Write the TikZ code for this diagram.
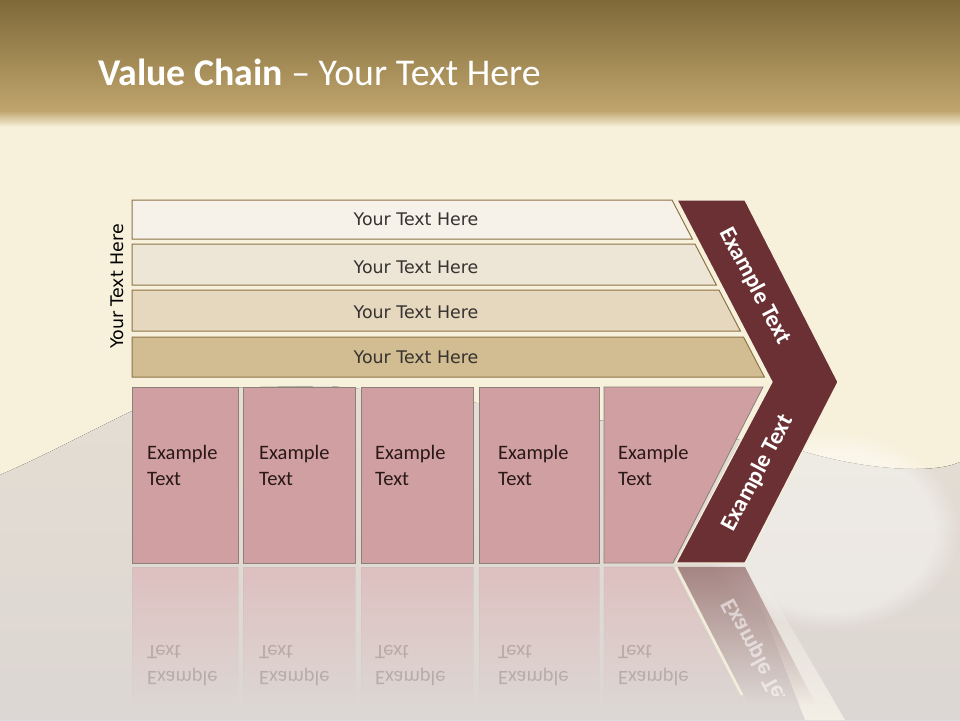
\documentclass[tikz,border=0pt]{standalone}
\usepackage{fontspec}
\setmainfont{Carlito}
\newfontfamily\versans{DejaVu Sans}
\usetikzlibrary{fadings}
\definecolor{bandtop}{HTML}{7F6939}
\definecolor{bandlow}{HTML}{BFA56D}
\definecolor{bgcream}{HTML}{F7F0DB}
\definecolor{dunegrey}{HTML}{D6CFCC}
\definecolor{barrim}{HTML}{8D7447}
\definecolor{barA}{HTML}{F6F2EA}
\definecolor{barB}{HTML}{EDE5D5}
\definecolor{barC}{HTML}{E6D8BE}
\definecolor{barD}{HTML}{D2BD92}
\definecolor{boxpink}{HTML}{D09FA1}
\definecolor{boxrim}{HTML}{8A807C}
\definecolor{chevred}{HTML}{6A3033}
\definecolor{inkdark}{HTML}{2A1818}
\definecolor{inkgrey}{HTML}{363230}
\pgfdeclareverticalshading{topband}{100bp}{color(0bp)=(bgcream); color(28bp)=(bgcream); color(34bp)=(bandlow); color(75bp)=(bandtop); color(100bp)=(bandtop)}
\begin{document}
\begin{tikzpicture}[x=1pt,y=-1pt,line join=miter,
  bartext/.style={font=\versans\fontsize{17.4}{20}\selectfont,text=inkgrey,anchor=base,inner sep=0pt},
  boxtext/.style={font=\fontsize{20.5}{24}\selectfont,text=inkdark,anchor=base west,inner sep=0pt},
  chevtext/.style={font=\bfseries\fontsize{23.5}{28}\selectfont,text=white,inner sep=0pt},
  mirrored/.style={yscale=-1,opacity=0.2}]
  \useasboundingbox (0,0) rectangle (960,720);
  \fill[bgcream] (0,0) rectangle (960,720);
  \fill[top color=dunegrey!55!bgcream,bottom color=dunegrey!85!white] (0,475) .. controls (80,440) and (140,402) .. (190,388) -- (330,386) -- (420,395) -- (790,447) .. controls (850,468) and (930,476) .. (960,462) -- (960,720) -- (0,720) -- cycle;
  \fill[white,opacity=0.4,path fading=circle with fuzzy edge 20 percent] (830,530) ellipse (130 and 100);
  \fill[white!50!bgcream,opacity=0.75,path fading=north] (746,567) -- (756,567) -- (845,720) -- (805,720) -- cycle;
  \shade[shading=topband] (0,0) rectangle (960,135);
  \node[anchor=base west,text=white,font=\fontsize{37.8}{44}\selectfont,inner sep=0pt] (title) at (98,85) {\textbf{Value Chain} – Your Text Here};
  \foreach \name/\top/\bot/\col/\base in {barone/200/239/barA/225,bartwo/244/285/barB/273,barthree/290/331/barC/318,barfour/337/377/barD/363}{
    \draw[barrim,line width=1pt,fill=\col] (132,\top) -- ({672+0.522*(\top-200)},\top) -- ({672+0.522*(\bot-200)},\bot) -- (132,\bot) -- cycle;
    \node[bartext] (\name) at (416,\base) {Your Text Here};
  }
  \node[bartext,text=black,rotate=90] (sidelabel) at (123,286.5) {Your Text Here};
  \draw[bgcream,line width=1.2pt,fill=chevred] (677,200) -- (745,200) -- (838,382) -- (745,563) -- (676,563) -- (772,382) -- cycle;
  \node[chevtext,rotate=-62.4] (chevup) at (755,286) {Example Text};
  \node[chevtext,rotate=62] (chevdown) at (758,473) {Example Text};
  \foreach \name/\xl/\xrt/\xrb/\tx in {boxone/132/238/238/147,boxtwo/243/355/355/259,boxthree/361/473/473/375,boxfour/479/599/599/498,boxfive/604/763/673/618}{
    \draw[boxrim,line width=0.8pt,fill=boxpink] (\xl,387) -- (\xrt,387) -- (\xrb,563) -- (\xl,563) -- cycle;
    \node[boxtext] (\name-one) at (\tx,459) {Example};
    \node[boxtext] (\name-two) at (\tx,485) {Text};
    \fill[boxpink!75!white,fill opacity=0.75,path fading=south] (\xl,567) -- (\xrb,567) -- ({\xrb+(\xrt-\xrb)*138/176},705) -- (\xl,705) -- cycle;
    \draw[boxrim!50!white,line width=0.8pt,opacity=0.5,path fading=south] (\xl,705) -- (\xl,567) -- (\xrb,567) -- ({\xrb+(\xrt-\xrb)*138/176},705);
    \node[boxtext,mirrored] (\name-mirone) at (\tx,671) {Example};
    \node[boxtext,mirrored] (\name-mirtwo) at (\tx,645) {Text};
  }
  \fill[chevred,fill opacity=0.5,path fading=south] (676,567) -- (745,567) -- (816,705) -- (749,705) -- cycle;
  \draw[bgcream,line width=2.5pt,opacity=0.9] (676,567) -- (742,695);
  \begin{scope}
    \clip (660,565) rectangle (860,695);
    \node[chevtext,yscale=-1,rotate=62,opacity=0.55] (chevmirror) at (758,657) {Example Text};
  \end{scope}
\end{tikzpicture}
\end{document}
